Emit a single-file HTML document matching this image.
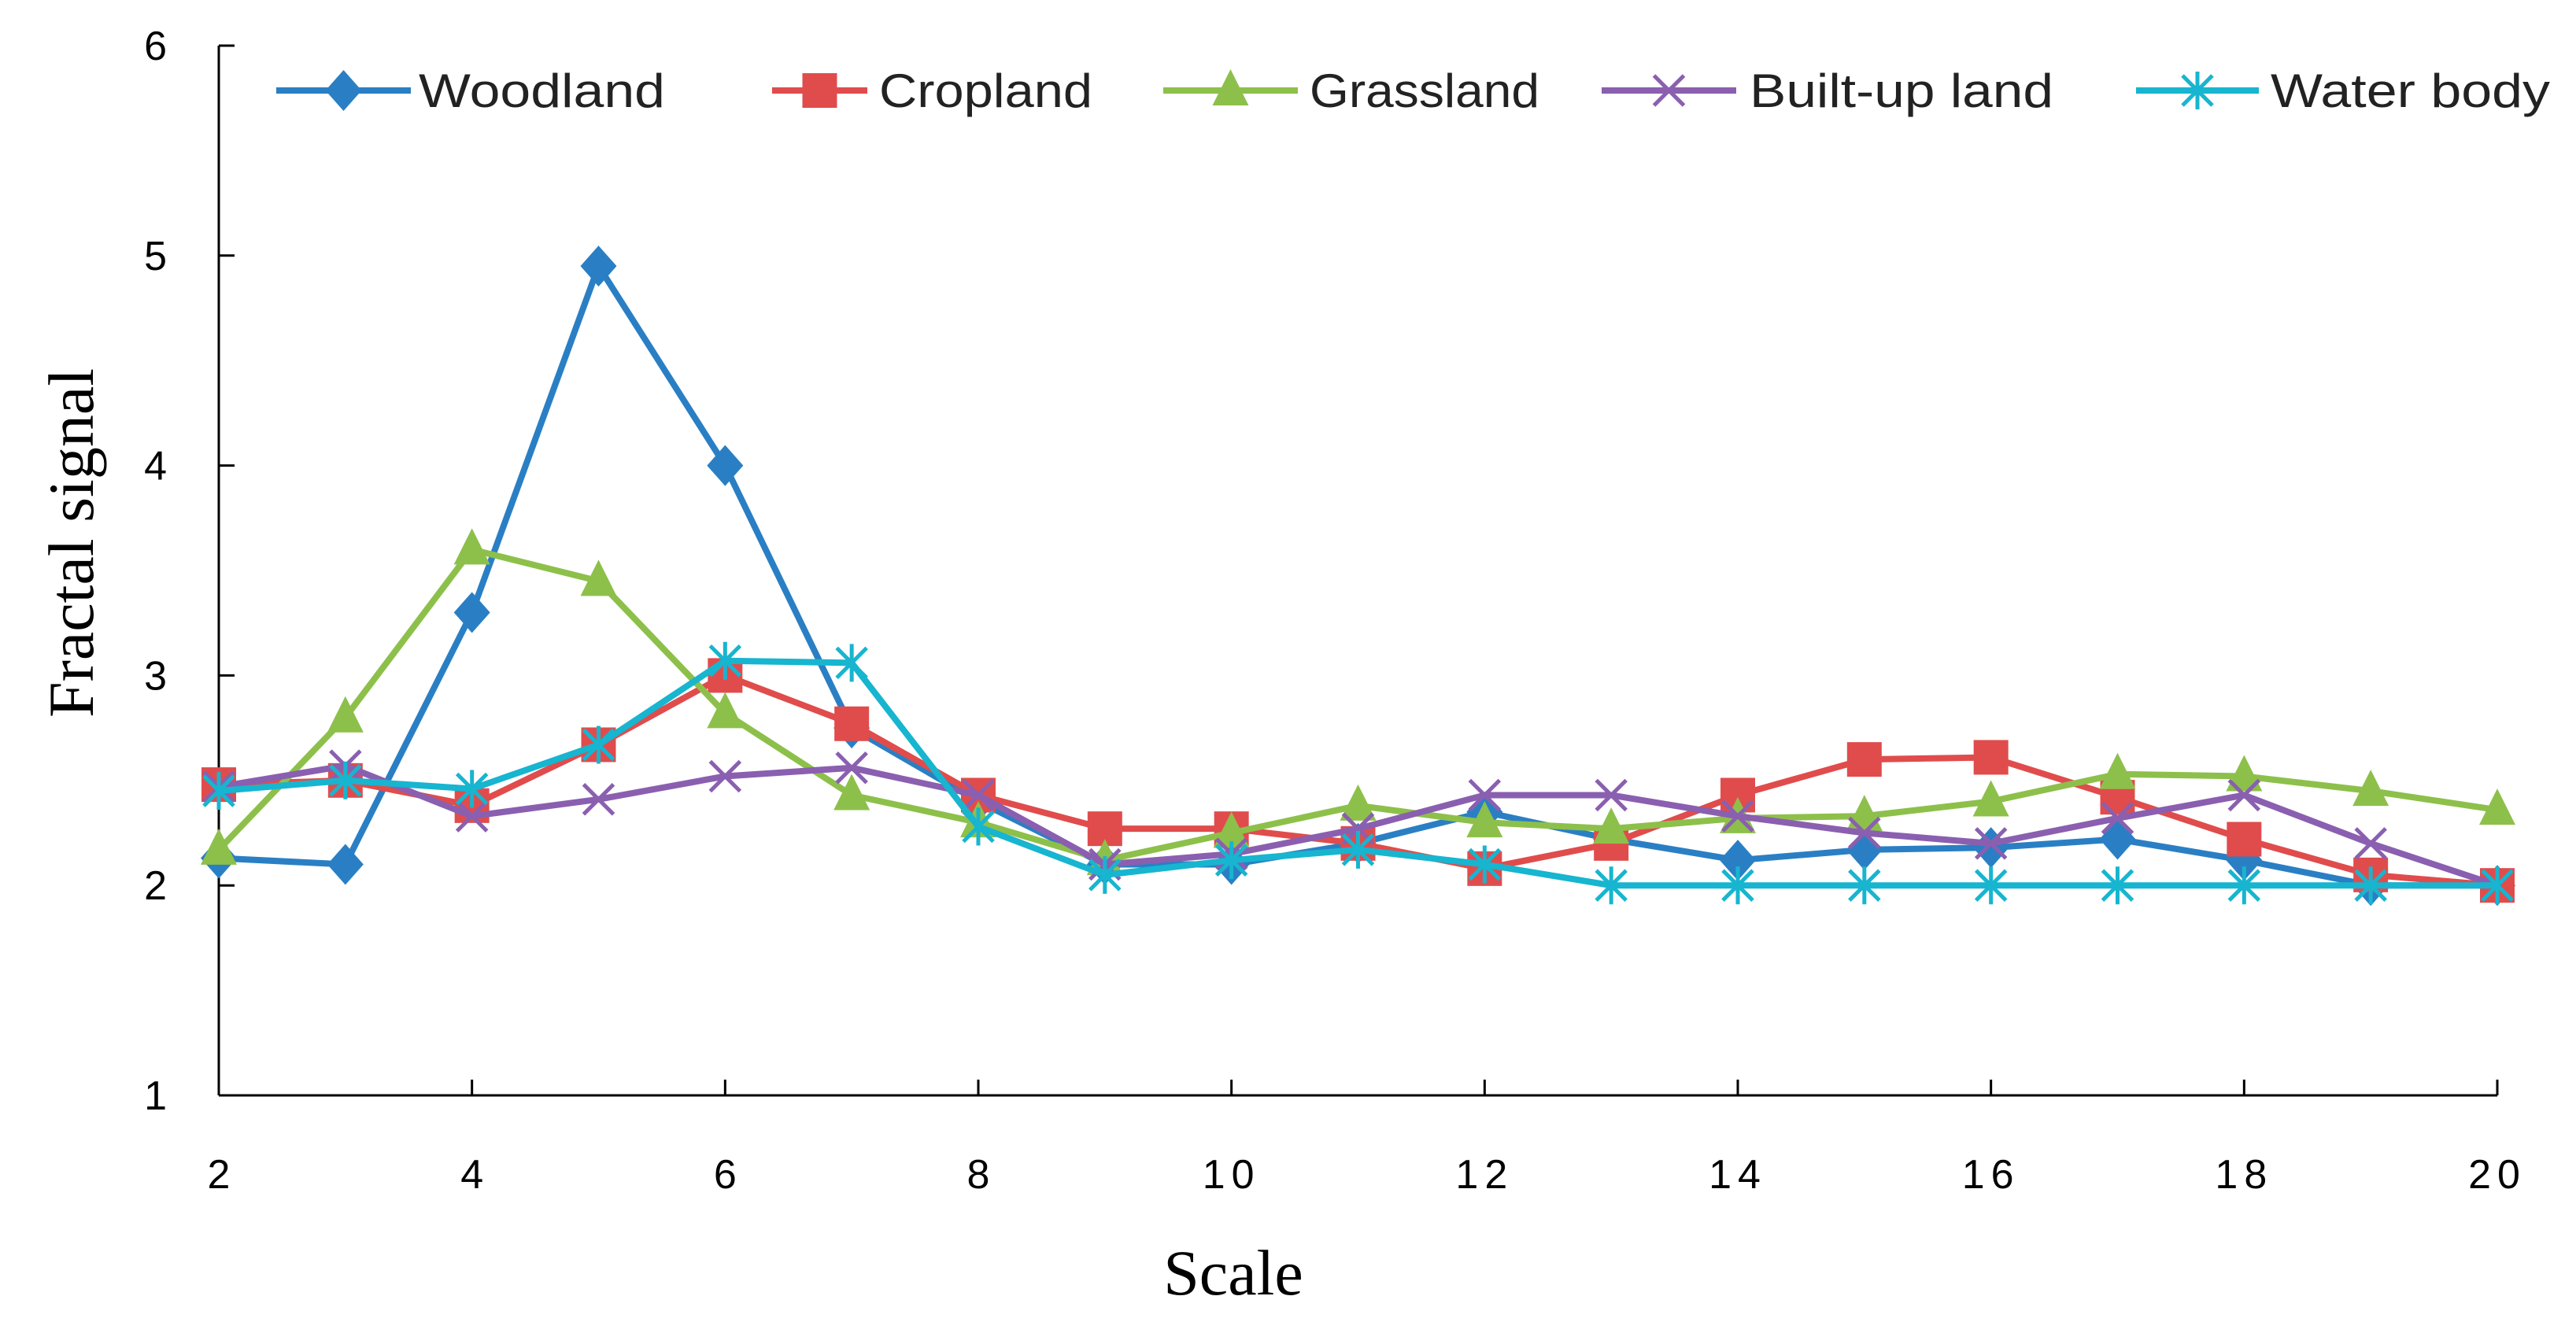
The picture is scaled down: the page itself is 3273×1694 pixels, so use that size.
<!DOCTYPE html>
<html><head><meta charset="utf-8"><style>
html,body{margin:0;padding:0;background:#fff;}
svg{display:block;}
</style></head><body>
<svg id="chart" width="3273" height="1694" viewBox="0 0 3273 1694" xmlns="http://www.w3.org/2000/svg">
<g id="axes"></g>
<g id="series"></g>
<g id="legend"></g>
<text x="1567" y="1645" font-family="Liberation Serif, serif" font-size="82" text-anchor="middle" fill="#000">Scale</text>
<text transform="translate(118,690) rotate(-90)" font-family="Liberation Serif, serif" font-size="82" text-anchor="middle" fill="#000">Fractal signal</text>
</svg>
<script>
const scales = [2,3,4,5,6,7,8,9,10,11,12,13,14,15,16,17,18,19,20];
const xTicks = [2,4,6,8,10,12,14,16,18,20];
const yTicks = [1,2,3,4,5,6];
const woodland = [2.13,2.1,3.3,4.95,4.0,2.75,2.4,2.1,2.1,2.2,2.35,2.22,2.12,2.17,2.18,2.22,2.12,2.0,2.0];
const cropland = [2.48,2.5,2.38,2.67,3.0,2.77,2.43,2.27,2.27,2.2,2.08,2.2,2.43,2.6,2.61,2.42,2.22,2.05,2.0];
const grassland = [2.17,2.8,3.6,3.45,2.82,2.43,2.3,2.12,2.25,2.38,2.3,2.27,2.32,2.33,2.4,2.53,2.52,2.45,2.36];
const builtup = [2.47,2.57,2.33,2.41,2.52,2.56,2.43,2.1,2.15,2.27,2.43,2.43,2.33,2.25,2.2,2.32,2.43,2.2,2.0];
const water = [2.45,2.5,2.46,2.67,3.07,3.06,2.28,2.05,2.12,2.17,2.1,2.0,2.0,2.0,2.0,2.0,2.0,2.0,2.0];
const seriesNames = ["Woodland","Cropland","Grassland","Built-up land","Water body"];

const NS="http://www.w3.org/2000/svg";
const X0=278,X1=3173,Y0=1392,Y1=58;
function xs(v){return X0+(v-2)/(20-2)*(X1-X0);}
function ys(v){return Y0-(v-1)/(6-1)*(Y0-Y1);}
function mk(tag,attrs,parent){const e=document.createElementNS(NS,tag);for(const k in attrs)e.setAttribute(k,attrs[k]);parent.appendChild(e);return e;}
const axes=document.getElementById('axes');
let a=mk('line',{x1:X0,y1:Y1,x2:X0,y2:Y0,stroke:'#000','stroke-width':3},axes);


a=mk('line',{x1:X0,y1:Y0,x2:X1,y2:Y0,stroke:'#000','stroke-width':3},axes);


yTicks.forEach(t=>{
  const y=ys(t);
  const l=mk('line',{x1:X0,y1:y,x2:X0+20,y2:y,stroke:'#000','stroke-width':3},axes);
  
  
  const tx=mk('text',{x:212,y:y+18,'font-family':'Liberation Sans, sans-serif','font-size':52,'text-anchor':'end',fill:'#000'},axes);
  tx.textContent=t;
  
  
});
xTicks.forEach(t=>{
  const x=xs(t);
  const l=mk('line',{x1:x,y1:Y0,x2:x,y2:Y0-20,stroke:'#000','stroke-width':3},axes);
  
  
  const tx=mk('text',{x:x,y:1510,'font-family':'Liberation Sans, sans-serif','font-size':52,'text-anchor':'middle',fill:'#000','letter-spacing':t>=10?8:0},axes);
  tx.textContent=t;
  
  
});
const colors=['#2a7fc4','#e04c4c','#8dc04a','#8a5fb0','#17b5cf'];
const types=['diamond','square','triangle','x','star'];
function marker(g,type,x,y,c){
  let e;
  if(type==='diamond') e=mk('polygon',{points:`${x},${y-26} ${x+23},${y} ${x},${y+26} ${x-23},${y}`,fill:c},g);
  else if(type==='square') e=mk('rect',{x:x-22,y:y-22,width:44,height:44,fill:c},g);
  else if(type==='triangle') e=mk('polygon',{points:`${x},${y-27} ${x+23},${y+19} ${x-23},${y+19}`,fill:c},g);
  else if(type==='x') e=mk('path',{d:`M${x-19},${y-19}L${x+19},${y+19}M${x-19},${y+19}L${x+19},${y-19}`,stroke:c,'stroke-width':5,fill:'none'},g);
  else e=mk('path',{d:`M${x-19},${y-19}L${x+19},${y+19}M${x-19},${y+19}L${x+19},${y-19}M${x},${y-24}L${x},${y+24}`,stroke:c,'stroke-width':5,fill:'none'},g);
  return e;
}
const data=[woodland,cropland,grassland,builtup,water];
const sg=document.getElementById('series');
data.forEach((vals,i)=>{
  const g=mk('g',{},sg);
  
  
  const pts=vals.map((v,j)=>xs(scales[j])+','+ys(v)).join(' ');
  const pl=mk('polyline',{points:pts,fill:'none',stroke:colors[i],'stroke-width':8,'stroke-linejoin':'round'},g);
  
  
  vals.forEach((v,j)=>{
    const m=marker(g,types[i],xs(scales[j]),ys(v),colors[i]);
    
    
  });
});
const lg=document.getElementById('legend');
const legLine=[[351,522],[981,1102],[1478,1649],[2035,2206],[2714,2870]];
const legText=[[532,313],[1117,271],[1664,292],[2223,386],[2885,355]];
seriesNames.forEach((n,i)=>{
  const g=mk('g',{},lg);
  
  
  const y=115;
  mk('line',{x1:legLine[i][0],y1:y,x2:legLine[i][1],y2:y,stroke:colors[i],'stroke-width':8},g);
  marker(g,types[i],(legLine[i][0]+legLine[i][1])/2,y,colors[i]);
  const t=mk('text',{x:legText[i][0],y:y+21,'font-family':'Liberation Sans, sans-serif','font-size':60,fill:'#222',textLength:legText[i][1],lengthAdjust:'spacingAndGlyphs'},g);
  t.textContent=n;
});
</script>
</body></html>
